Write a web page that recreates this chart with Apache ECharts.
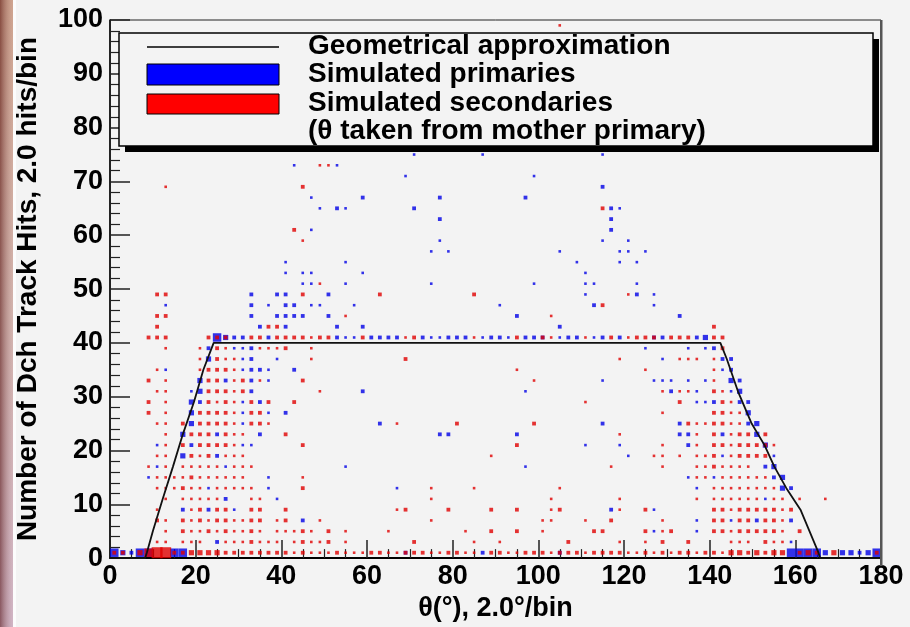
<!DOCTYPE html>
<html><head><meta charset="utf-8">
<script src="https://cdn.jsdelivr.net/npm/echarts@6/dist/echarts.min.js"></script>
<style>html,body{margin:0;padding:0;background:#f3f3f3}#c{width:910px;height:627px}</style>
</head><body><div id="c"></div><script>
// ---- axis ticks ----
const xTicks = [0, 20, 40, 60, 80, 100, 120, 140, 160, 180];
const yTicks = [0, 10, 20, 30, 40, 50, 60, 70, 80, 90, 100];
const xTitle = 'θ(°), 2.0°/bin';
const yTitle = 'Number of Dch Track Hits, 2.0 hits/bin';
const legendLabels = ['Geometrical approximation', 'Simulated primaries', 'Simulated secondaries', '(θ taken from mother primary)'];

// ---- geometrical approximation (theta, hits) ----
const geomTheta = [0, 8.2, 8.6, 10.0, 12.3, 14.7, 17.0, 19.6, 21.8, 24.2, 142.5, 144.0, 146.6, 149.8, 152.8, 155.1, 157.9, 161.2, 163.3, 165.4, 165.8, 180];
const geomHits  = [0, 0,   1,   5,    11,   17,   23,   29,   35,   40,   40,    37,    31,    25,    21,    17,    13,    9,     5,     1,     0,     0];

// ---- simulated primaries: [theta bin centre, hits bin centre, box weight] ----
const primaries = [
[1,1,4],[3,1,3],[5,1,2],[7,1,4],[9,1,4],[15,1,4],[17,1,4],[69,1,2],[87,1,2],[105,1,2],[159,1,4],[161,1,4],[163,1,4],[165,1,4],[167,1,3],[171,1,3],[173,1,3],[175,1,2],[177,1,3],[179,1,4],
[25,3,2],[159,3,1],
[127,5,1],[137,5,1],
[45,7,2],[137,7,1],[145,7,1],[151,7,2],[159,7,2],
[17,9,2],[23,9,2],[29,9,1],[117,9,2],[127,9,1],
[27,11,2],[39,11,1],[153,11,1],
[23,13,1],[37,13,1],[67,13,1],[137,13,1],[157,13,3],[159,13,2],
[9,15,1],[37,15,1],[135,15,1],[141,15,1],[155,15,2],[157,15,3],
[11,17,1],[27,17,1],[55,17,1],[97,17,1],[153,17,2],[155,17,3],
[17,19,3],[25,19,2],[121,19,1],[143,19,1],[155,19,1],
[11,21,1],[19,21,2],[31,21,1],[33,21,1],[111,21,1],[119,21,1],[135,21,2],[153,21,3],
[17,23,3],[25,23,2],[35,23,2],[77,23,2],[79,23,2],[95,23,2],[133,23,2],[135,23,2],[143,23,2],[151,23,3],
[19,25,3],[31,25,1],[63,25,2],[115,25,2],[133,25,2],[149,25,2],[151,25,3],
[19,27,3],[31,27,1],[37,27,1],[41,27,2],[149,27,3],
[19,29,3],[21,29,2],[31,29,1],[35,29,2],[137,29,1],[139,29,1],[141,29,2],[147,29,2],[149,29,2],
[19,31,1],[21,31,3],[33,31,2],[59,31,2],[97,31,1],[131,31,2],[137,31,1],[145,31,1],[147,31,3],
[21,33,3],[27,33,2],[33,33,2],[37,33,1],[115,33,1],[127,33,1],[129,33,1],[131,33,1],[135,33,1],[139,33,1],[145,33,3],[147,33,2],
[13,35,1],[31,35,1],[33,35,2],[35,35,2],[37,35,1],[43,35,2],[143,35,1],[145,35,2],
[23,37,3],[31,37,1],[33,37,2],[39,37,1],[129,37,1],[143,37,2],[145,37,2],
[23,39,2],[29,39,1],[31,39,1],[33,39,2],[125,39,1],[135,39,1],[139,39,1],[141,39,2],
[25,41,4],[27,41,3],[29,41,2],[31,41,2],[37,41,2],[53,41,2],[55,41,1],[57,41,1],[61,41,2],[63,41,2],[65,41,2],[67,41,2],[73,41,2],[75,41,1],[77,41,1],[79,41,2],[81,41,2],[83,41,2],[87,41,1],[89,41,2],[91,41,2],[93,41,1],[97,41,2],[99,41,2],[101,41,2],[105,41,1],[107,41,2],[109,41,2],[113,41,1],[115,41,2],[119,41,2],[127,41,2],[129,41,2],[137,41,2],[139,41,3],
[35,43,2],[41,43,2],[53,43,2],[59,43,2],[105,43,2],
[33,45,2],[39,45,2],[41,45,2],[43,45,2],[45,45,2],[51,45,2],[95,45,2],[133,45,2],
[13,47,1],[33,47,2],[37,47,1],[41,47,2],[43,47,2],[47,47,1],[49,47,1],[57,47,1],[91,47,1],[113,47,2],[127,47,1],
[33,49,2],[39,49,2],[41,49,2],[51,49,2],[111,49,1],[123,49,2],[127,49,1],
[45,51,1],[47,51,1],[55,51,1],[75,51,1],[99,51,1],[111,51,1],[113,51,1],[123,51,1],
[41,53,1],[45,53,1],[47,53,1],[59,53,1],[111,53,1],
[41,55,1],[55,55,1],[109,55,1],[119,55,1],[123,55,1],
[75,57,1],[79,57,1],[105,57,1],[119,57,1],[121,57,1],[125,57,1],
[77,59,1],[115,59,1],[121,59,1],
[47,61,1],[117,61,2],
[77,63,2],[117,63,2],
[49,65,1],[53,65,2],[55,65,1],[71,65,2],[117,65,2],[119,65,1],
[47,67,1],[59,67,2],[77,67,2],[97,67,2],
[115,69,2],
[69,71,1],[99,71,1],
[43,73,1],[53,73,1],
[71,75,1],[87,75,1],[115,75,1]
];

// ---- simulated secondaries: [theta bin centre, hits bin centre, box weight] ----
const secondaries = [
[1,1,2],[3,1,2],[7,1,3],[9,1,4],[11,1,5],[13,1,5],[15,1,2],[17,1,2],[19,1,3],[21,1,3],[23,1,3],[25,1,3],[27,1,2],[29,1,2],[31,1,2],[33,1,2],[35,1,2],[37,1,2],[39,1,2],[41,1,2],[43,1,1],[45,1,2],[47,1,1],[49,1,1],[51,1,1],[53,1,2],[55,1,1],[57,1,1],[59,1,1],[61,1,2],[63,1,2],[65,1,1],[67,1,1],[69,1,2],[71,1,2],[73,1,2],[75,1,1],[77,1,1],[79,1,2],[81,1,2],[83,1,1],[85,1,1],[89,1,2],[91,1,2],[93,1,1],[95,1,1],[97,1,2],[99,1,2],[101,1,2],[103,1,1],[105,1,2],[107,1,2],[109,1,2],[111,1,1],[113,1,2],[115,1,2],[117,1,2],[119,1,2],[121,1,1],[123,1,1],[125,1,2],[127,1,1],[129,1,2],[131,1,1],[133,1,2],[135,1,2],[137,1,1],[139,1,2],[141,1,2],[143,1,1],[145,1,3],[147,1,3],[149,1,2],[151,1,3],[153,1,2],[155,1,3],[157,1,3],[161,1,2],[163,1,3],[165,1,2],[169,1,3],[179,1,2],
[11,3,1],[13,3,1],[17,3,1],[19,3,1],[21,3,1],[27,3,1],[29,3,1],[31,3,1],[33,3,2],[35,3,1],[37,3,1],[39,3,1],[43,3,1],[45,3,2],[47,3,1],[49,3,1],[51,3,2],[55,3,1],[71,3,2],[85,3,1],[91,3,1],[107,3,2],[119,3,1],[125,3,1],[129,3,2],[135,3,2],[145,3,1],[147,3,1],[149,3,1],[153,3,2],[155,3,1],[157,3,1],
[13,5,1],[17,5,2],[19,5,1],[21,5,1],[23,5,2],[25,5,1],[27,5,2],[29,5,1],[31,5,1],[33,5,2],[35,5,1],[39,5,1],[41,5,1],[43,5,1],[45,5,2],[47,5,1],[51,5,2],[55,5,1],[65,5,1],[83,5,1],[89,5,2],[95,5,2],[101,5,1],[113,5,2],[115,5,2],[125,5,2],[129,5,1],[131,5,2],[141,5,2],[143,5,2],[145,5,1],[147,5,2],[149,5,2],[151,5,2],[153,5,2],[155,5,2],[157,5,1],[161,5,2],
[11,7,2],[13,7,1],[17,7,2],[19,7,1],[21,7,2],[23,7,1],[25,7,2],[27,7,2],[29,7,1],[31,7,1],[33,7,2],[35,7,2],[39,7,1],[41,7,2],[49,7,1],[75,7,1],[101,7,1],[103,7,1],[111,7,1],[117,7,2],[129,7,1],[141,7,2],[143,7,2],[147,7,2],[149,7,2],[153,7,2],[155,7,2],[157,7,1],
[11,9,1],[19,9,1],[21,9,2],[25,9,2],[27,9,2],[33,9,2],[35,9,2],[41,9,2],[67,9,1],[69,9,2],[79,9,2],[89,9,2],[95,9,2],[103,9,1],[105,9,2],[119,9,1],[125,9,2],[141,9,2],[143,9,2],[145,9,1],[147,9,2],[149,9,2],[151,9,2],[153,9,2],[155,9,2],[157,9,1],[159,9,2],
[13,11,1],[17,11,1],[19,11,1],[21,11,1],[23,11,1],[25,11,1],[33,11,1],[35,11,1],[75,11,1],[103,11,1],[119,11,1],[137,11,1],[141,11,1],[143,11,1],[145,11,1],[147,11,1],[149,11,1],[151,11,1],[155,11,1],[157,11,1],[161,11,1],[167,11,1],
[11,13,1],[13,13,1],[15,13,1],[17,13,2],[19,13,1],[21,13,1],[25,13,1],[27,13,1],[29,13,1],[31,13,1],[33,13,1],[45,13,2],[75,13,1],[85,13,1],[105,13,1],[141,13,1],[143,13,1],[145,13,1],[147,13,1],[149,13,1],[151,13,1],[153,13,1],[155,13,1],
[11,15,1],[13,15,1],[15,15,1],[17,15,1],[19,15,2],[21,15,1],[23,15,1],[25,15,1],[27,15,1],[29,15,1],[31,15,1],[45,15,1],[137,15,1],[139,15,1],[143,15,1],[145,15,1],[147,15,1],[149,15,1],[151,15,1],[153,15,1],
[9,17,1],[13,17,1],[17,17,1],[19,17,1],[21,17,1],[23,17,1],[25,17,1],[29,17,1],[31,17,1],[33,17,1],[117,17,1],[129,17,1],[137,17,1],[139,17,1],[141,17,2],[143,17,1],[145,17,1],[147,17,1],[149,17,1],
[11,19,1],[13,19,1],[19,19,2],[21,19,1],[23,19,2],[27,19,1],[29,19,1],[31,19,1],[89,19,1],[127,19,1],[129,19,1],[133,19,1],[137,19,1],[139,19,1],[141,19,2],[145,19,1],[147,19,2],[149,19,2],[151,19,2],[153,19,2],
[13,21,1],[17,21,2],[21,21,2],[23,21,2],[25,21,2],[27,21,2],[29,21,1],[45,21,2],[95,21,2],[129,21,1],[137,21,1],[141,21,2],[143,21,2],[145,21,1],[147,21,2],[149,21,2],[151,21,2],[153,21,2],[155,21,1],
[13,23,1],[19,23,2],[21,23,2],[23,23,2],[27,23,2],[29,23,1],[31,23,1],[41,23,2],[119,23,1],[137,23,1],[141,23,2],[145,23,1],[147,23,2],[149,23,2],[153,23,2],
[11,25,1],[13,25,1],[17,25,2],[21,25,2],[23,25,2],[25,25,2],[27,25,2],[29,25,1],[33,25,2],[35,25,2],[37,25,1],[67,25,1],[81,25,2],[99,25,2],[135,25,2],[137,25,1],[139,25,1],[141,25,2],[143,25,2],[145,25,1],[147,25,1],
[9,27,2],[13,27,1],[21,27,2],[23,27,2],[25,27,2],[27,27,2],[29,27,1],[33,27,2],[35,27,2],[129,27,1],[141,27,2],[143,27,2],[145,27,1],[147,27,1],
[9,29,2],[13,29,1],[23,29,2],[25,29,1],[27,29,2],[29,29,1],[33,29,2],[37,29,2],[43,29,2],[111,29,1],[133,29,2],[143,29,2],[145,29,1],
[11,31,1],[13,31,1],[23,31,2],[25,31,2],[27,31,2],[29,31,1],[31,31,2],[49,31,1],[129,31,1],[133,31,1],[135,31,1],[141,31,2],[143,31,1],
[9,33,2],[13,33,1],[23,33,2],[25,33,2],[29,33,1],[31,33,2],[35,33,1],[45,33,2],[99,33,1],[141,33,1],
[11,35,1],[21,35,1],[23,35,2],[25,35,2],[27,35,2],[29,35,1],[95,35,1],[125,35,1],[141,35,1],
[21,37,1],[25,37,2],[27,37,1],[29,37,1],[47,37,1],[69,37,2],[119,37,1],[133,37,1],[135,37,1],[137,37,1],[141,37,1],
[13,39,1],[21,39,1],[25,39,2],[27,39,1],[35,39,1],[37,39,1],[39,39,1],[41,39,2],[47,39,1],[143,39,2],
[9,41,2],[11,41,2],[13,41,2],[23,41,2],[25,41,2],[27,41,2],[33,41,2],[35,41,2],[39,41,2],[41,41,2],[43,41,2],[45,41,2],[47,41,1],[49,41,2],[51,41,2],[59,41,2],[69,41,1],[71,41,2],[85,41,1],[95,41,2],[101,41,2],[103,41,1],[111,41,1],[117,41,2],[121,41,1],[123,41,2],[125,41,2],[127,41,2],[131,41,2],[133,41,2],[135,41,2],[141,41,2],[143,41,2],
[11,43,2],[37,43,2],[39,43,2],[141,43,2],
[11,45,2],[13,45,2],[55,45,1],[103,45,1],
[115,47,2],
[11,49,2],[13,49,2],[45,49,2],[63,49,2],[85,49,2],[121,49,1],
[49,51,1],
[45,59,1],
[43,61,2],
[115,65,2],
[13,69,1],[45,69,2],
[49,73,1],[51,73,1],
[105,99,1]
];

const boxSize = [0, 2.6, 3.8, 5.2, 8.5, 11];
const FONT = '"Liberation Sans", Arial, Helvetica, sans-serif';

const chart = echarts.init(document.getElementById('c'), null, {renderer: 'canvas'});
const G = {left: 110, top: 20, w: 771, h: 545};

chart.setOption({
  animation: false,
  backgroundColor: '#f3f3f3',
  grid: {left: G.left, top: G.top, width: G.w, height: G.h, show: true, borderColor: '#222', borderWidth: 1, backgroundColor: 'transparent'},
  xAxis: {
    type: 'value', min: xTicks[0], max: xTicks[xTicks.length - 1], interval: xTicks[1] - xTicks[0],
    name: xTitle, nameLocation: 'middle', nameGap: 32,
    nameTextStyle: {fontFamily: FONT, fontWeight: 'bold', fontSize: 27, color: '#000'},
    axisLine: {show: true, onZero: false, lineStyle: {color: '#000', width: 2}},
    axisTick: {show: true, inside: true, length: 18, lineStyle: {color: '#222', width: 1.5}},
    minorTick: {show: true, splitNumber: 4, length: 9, lineStyle: {color: '#222', width: 1.2}},
    axisLabel: {fontFamily: FONT, fontWeight: 'bold', fontSize: 27, color: '#000', margin: 5},
    splitLine: {show: false}
  },
  yAxis: {
    type: 'value', min: yTicks[0], max: yTicks[yTicks.length - 1], interval: yTicks[1] - yTicks[0],
    name: yTitle, nameLocation: 'middle', nameGap: 68, nameRotate: 90,
    nameTextStyle: {fontFamily: FONT, fontWeight: 'bold', fontSize: 28, color: '#000'},
    axisLine: {show: true, onZero: false, lineStyle: {color: '#000', width: 1.5}},
    axisTick: {show: true, inside: true, length: 20, lineStyle: {color: '#222', width: 1.5}},
    minorTick: {show: true, splitNumber: 5, length: 10, lineStyle: {color: '#222', width: 1.2}},
    axisLabel: {fontFamily: FONT, fontWeight: 'bold', fontSize: 27, color: '#000', margin: 7},
    splitLine: {show: false}
  },
  series: [
    {
      name: legendLabels[1], type: 'scatter', symbol: 'rect', silent: true, z: 2,
      symbolSize: v => boxSize[v[2]],
      itemStyle: {color: '#0000e6'},
      data: primaries
    },
    {
      name: legendLabels[2], type: 'scatter', symbol: 'rect', silent: true, z: 3,
      symbolSize: v => boxSize[v[2]],
      itemStyle: {color: '#e00000'},
      data: secondaries
    },
    {
      name: legendLabels[0], type: 'line', symbol: 'none', silent: true, z: 4,
      lineStyle: {color: '#111', width: 1.8},
      data: geomTheta.map((t, i) => [t, geomHits[i]])
    }
  ],
  graphic: [
    // slide edge on the left (kept behind the axis title)
    {type: 'rect', z: -10, shape: {x: 0, y: 0, width: 13, height: 627}, style: {fill: new echarts.graphic.LinearGradient(0, 0, 0, 1, [{offset: 0, color: '#c0866a'}, {offset: 0.5, color: '#c49a92'}, {offset: 1, color: '#c29cb2'}])}},
    {type: 'rect', z: -9, shape: {x: 0, y: 0, width: 13, height: 627}, style: {fill: new echarts.graphic.LinearGradient(0, 0, 1, 0, [{offset: 0, color: 'rgba(90,30,30,0.55)'}, {offset: 1, color: 'rgba(255,255,255,0.25)'}])}},
    {type: 'rect', z: -9, shape: {x: 13, y: 0, width: 3, height: 627}, style: {fill: '#fcfcfc'}},
    // right frame line
    {type: 'rect', z: 10, shape: {x: 880, y: 20, width: 2.5, height: 546}, style: {fill: '#555'}},
    // legend box with shadow
    {type: 'rect', z: 20, shape: {x: 125, y: 39, width: 754, height: 113}, style: {fill: '#000'}},
    {type: 'rect', z: 21, shape: {x: 119, y: 33, width: 754, height: 113}, style: {fill: '#f3f3f3', stroke: '#000', lineWidth: 1.5}},
    {type: 'line', z: 22, shape: {x1: 147, y1: 47, x2: 279, y2: 47}, style: {stroke: '#000', lineWidth: 1.5}},
    {type: 'rect', z: 22, shape: {x: 147, y: 64, width: 132, height: 21}, style: {fill: '#0000ff', stroke: '#000', lineWidth: 1}},
    {type: 'rect', z: 22, shape: {x: 147, y: 94, width: 132, height: 20}, style: {fill: '#ff0000', stroke: '#000', lineWidth: 1}},
    {type: 'text', z: 22, x: 308, y: 46, style: {text: legendLabels[0], font: 'bold 28px ' + FONT, fill: '#000', verticalAlign: 'middle'}},
    {type: 'text', z: 22, x: 308, y: 74, style: {text: legendLabels[1], font: 'bold 28px ' + FONT, fill: '#000', verticalAlign: 'middle'}},
    {type: 'text', z: 22, x: 308, y: 103, style: {text: legendLabels[2], font: 'bold 28px ' + FONT, fill: '#000', verticalAlign: 'middle'}},
    {type: 'text', z: 22, x: 308, y: 131, style: {text: legendLabels[3], font: 'bold 28px ' + FONT, fill: '#000', verticalAlign: 'middle'}}
  ]
});
</script></body></html>
